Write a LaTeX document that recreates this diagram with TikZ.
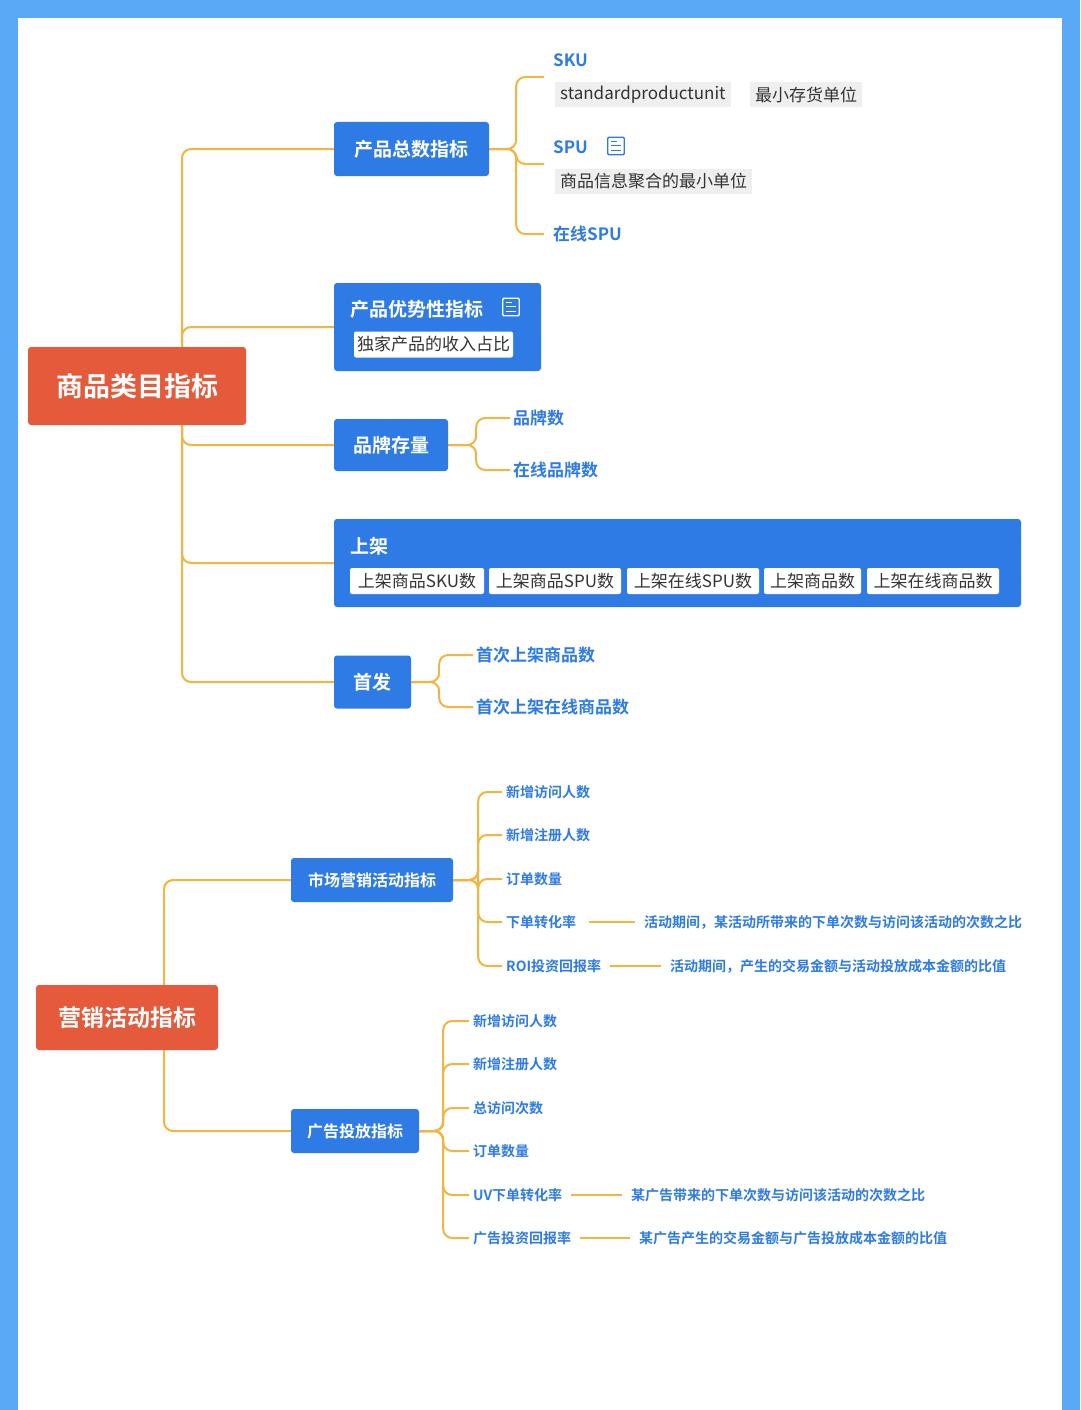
\documentclass[tikz,border=0pt]{standalone}
\usepackage{fontspec}
\setmainfont{Noto Sans CJK SC}
\newfontfamily\bfcjk{Noto Sans CJK SC Bold}
\usetikzlibrary{backgrounds}
\definecolor{bl}{HTML}{2F7BE6}
\definecolor{rd}{HTML}{E45A3B}
\definecolor{og}{HTML}{F2B640}
\definecolor{frame}{HTML}{5AA9F6}
\definecolor{tg}{HTML}{EFEFEF}
\definecolor{tx}{HTML}{333333}
\tikzset{
 rootbox/.style={fill=rd,rounded corners=3,text=white,font=\bfcjk\fontsize{27}{30}\selectfont,inner sep=0},
 bbox/.style={fill=bl,rounded corners=3,text=white,font=\bfcjk\fontsize{19}{22}\selectfont,inner sep=0},
 sbox/.style={fill=bl,rounded corners=3,text=white,font=\bfcjk\fontsize{16}{18}\selectfont,inner sep=0},
 leaf/.style={anchor=west,text=bl,font=\bfcjk\fontsize{17}{19}\selectfont,inner sep=1},
 sleaf/.style={anchor=west,text=bl,font=\bfcjk\fontsize{14}{16}\selectfont,inner sep=1},
 gtag/.style={fill=tg,text=tx,font=\fontsize{17}{19}\selectfont,inner xsep=5,minimum height=25,anchor=west},
 wtag/.style={fill=white,rounded corners=2,text=tx,font=\fontsize{17}{19}\selectfont,inner xsep=3,minimum height=26,anchor=center},
 br/.style={draw=og,line width=2,rounded corners=9},
}
\begin{document}
\begin{tikzpicture}[x=1pt,y=-1pt]
\useasboundingbox (0,0) rectangle (1080,1410);
% ===== Part 1 =====
\node[rootbox,minimum width=218,minimum height=78] (r1) at (137,386) {商品类目指标};
\node[bbox,minimum width=155,minimum height=54] (b1) at (411.5,149) {产品总数指标};
\node[bbox,minimum width=207,minimum height=88] (b2) at (437.5,327) {};
\node[bbox,anchor=west] (b2t) at (350,309) {产品优势性指标};
\node[wtag] (b2g) at (433.5,344.5) {独家产品的收入占比};
\node[bbox,minimum width=114,minimum height=52] (b3) at (391,445) {品牌存量};
\node[bbox,minimum width=687,minimum height=88] (b4) at (677.5,563) {};
\node[bbox,anchor=west] (b4t) at (350,546) {上架};
\node[wtag,minimum width=134] (t1) at (417,581) {上架商品SKU数};
\node[wtag,minimum width=132] (t2) at (555,581) {上架商品SPU数};
\node[wtag,minimum width=132] (t3) at (693,581) {上架在线SPU数};
\node[wtag,minimum width=97] (t4) at (812.5,581) {上架商品数};
\node[wtag,minimum width=132] (t5) at (933,581) {上架在线商品数};
\node[bbox,minimum width=77,minimum height=53] (b5) at (372.5,682) {首发};
% note icons
\foreach \cx/\cy/\nm in {616/146/ia,511/307/ib}{
 \node[minimum width=16,minimum height=17,inner sep=0] (\nm) at (\cx,\cy) {};
}
\draw[bl,line width=1.3,rounded corners=1] (ia.north west) rectangle (ia.south east);
\draw[white,line width=1.3,rounded corners=1] (ib.north west) rectangle (ib.south east);
\foreach \nm/\c in {ia/bl,ib/white}{
 \draw[\c,line width=1.2] ([xshift=3,yshift=-4]\nm.north west) -- ++(6,0);
 \draw[\c,line width=1.2] ([xshift=3,yshift=-8.5]\nm.north west) -- ++(10,0);
 \draw[\c,line width=1.2] ([xshift=3,yshift=-13]\nm.north west) -- ++(10,0);
}
% leaves part1
\node[leaf] (sku) at (552,60) {SKU};
\node[gtag] (g1) at (555,95) {standardproductunit};
\node[gtag] (g2) at (750,95) {最小存货单位};
\node[leaf] (spu) at (552,147) {SPU};
\node[gtag] (g3) at (555,181) {商品信息聚合的最小单位};
\node[leaf] (zspu) at (552,234) {在线SPU};
\coordinate (k1) at (544,77);
\coordinate (k2) at (544,164);
\coordinate (k3) at (544,234);
\node[leaf] (pp1) at (512,418) {品牌数};
\node[leaf] (pp2) at (512,470) {在线品牌数};
\node[leaf] (sf1) at (475,655) {首次上架商品数};
\node[leaf] (sf2) at (475,707) {首次上架在线商品数};
\begin{scope}[on background layer]
\fill[frame] (0,0) rectangle (1080,1410);
\fill[white] (18,18) rectangle (1062,1410);
\coordinate (tr1) at (182,386);
\foreach \b in {b1,b2,b3,b4,b5} \draw[br] (tr1) |- (\b.west);
\foreach \k in {k1,k2,k3} \draw[br] (b1.east) -- ++(27,0) |- (\k);
\foreach \k in {pp1,pp2} \draw[br] (b3.east) -- ++(28,0) |- ([xshift=-2]\k.west);
\foreach \k in {sf1,sf2} \draw[br] (b5.east) -- ++(28,0) |- ([xshift=-2]\k.west);
\end{scope}
% ===== Part 2 =====
\node[rootbox,font=\bfcjk\fontsize{23}{26}\selectfont,minimum width=182,minimum height=65] (r2) at (127,1017.5) {营销活动指标};
\node[sbox,minimum width=162,minimum height=44] (m1) at (372,880) {市场营销活动指标};
\node[sbox,minimum width=128,minimum height=44] (m2) at (355,1131) {广告投放指标};
\node[sleaf] (a1) at (505,792) {新增访问人数};
\node[sleaf] (a2) at (505,835) {新增注册人数};
\node[sleaf] (a3) at (505,879) {订单数量};
\node[sleaf] (a4) at (505,922) {下单转化率};
\node[sleaf] (a4d) at (643,922) {活动期间，某活动所带来的下单次数与访问该活动的次数之比};
\node[sleaf] (a5) at (505,966) {ROI投资回报率};
\node[sleaf] (a5d) at (669,966) {活动期间，产生的交易金额与活动投放成本金额的比值};
\node[sleaf] (c1) at (472,1021) {新增访问人数};
\node[sleaf] (c2) at (472,1064) {新增注册人数};
\node[sleaf] (c3) at (472,1108) {总访问次数};
\node[sleaf] (c4) at (472,1151) {订单数量};
\node[sleaf] (c5) at (472,1195) {UV下单转化率};
\node[sleaf] (c5d) at (630,1195) {某广告带来的下单次数与访问该活动的次数之比};
\node[sleaf] (c6) at (472,1238) {广告投资回报率};
\node[sleaf] (c6d) at (638,1238) {某广告产生的交易金额与广告投放成本金额的比值};
\begin{scope}[on background layer]
\coordinate (tr2) at (164,1017);
\foreach \b in {m1,m2} \draw[br] (tr2) |- (\b.west);
\foreach \k in {a1,a2,a3,a4,a5} \draw[br] (m1.east) -- ++(25,0) |- ([xshift=-3]\k.west);
\foreach \k in {c1,c2,c3,c4,c5,c6} \draw[br] (m2.east) -- ++(24,0) |- ([xshift=-3]\k.west);
\end{scope}
\draw[og,line width=2] ([xshift=12]a4.east) -- ([xshift=-8]a4d.west);
\draw[og,line width=2] ([xshift=8]a5.east) -- ([xshift=-8]a5d.west);
\draw[og,line width=2] ([xshift=8]c5.east) -- ([xshift=-8]c5d.west);
\draw[og,line width=2] ([xshift=8]c6.east) -- ([xshift=-8]c6d.west);
\end{tikzpicture}
\end{document}
